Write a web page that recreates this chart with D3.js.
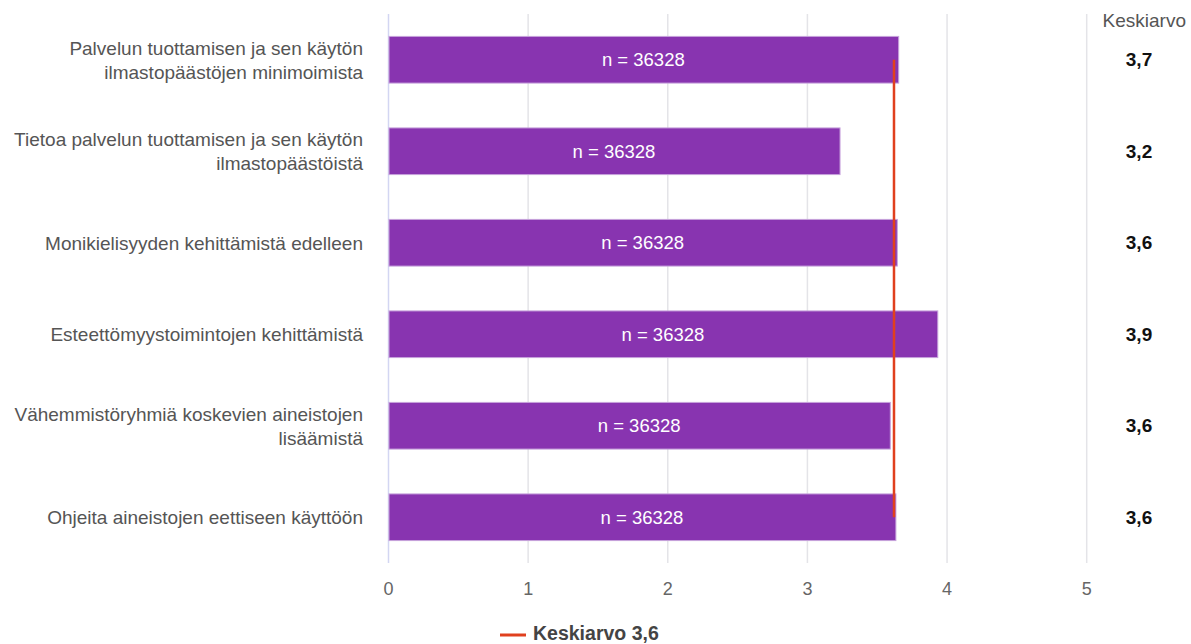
<!DOCTYPE html>
<html>
<head>
<meta charset="utf-8">
<script src="https://cdn.jsdelivr.net/npm/d3@7"></script>
<style>
  body { margin: 0; background: #fff; }
  text { font-family: "Liberation Sans", Arial, sans-serif; }
</style>
</head>
<body>
<div id="chart"></div>
<script>
// chart data
var categories = [
    ['Palvelun tuottamisen ja sen käytön', 'ilmastopäästöjen minimoimista'],
    ['Tietoa palvelun tuottamisen ja sen käytön', 'ilmastopäästöistä'],
    ['Monikielisyyden kehittämistä edelleen'],
    ['Esteettömyystoimintojen kehittämistä'],
    ['Vähemmistöryhmiä koskevien aineistojen', 'lisäämistä'],
    ['Ohjeita aineistojen eettiseen käyttöön']
];
var values = [3.65, 3.23, 3.64, 3.93, 3.59, 3.63];
var counts = [36328, 36328, 36328, 36328, 36328, 36328];
var meanLabels = ['3,7', '3,2', '3,6', '3,9', '3,6', '3,6'];
var overallMean = 3.62;
var xTicks = [0, 1, 2, 3, 4, 5];

var width = 1191, height = 644;
var margin = {left: 388.5, right: 104.3, top: 14, bottom: 81};

var svg = d3.select('#chart').append('svg')
    .attr('width', width)
    .attr('height', height);

var x = d3.scaleLinear()
    .domain([0, 5])
    .range([margin.left, width - margin.right]);

var y = d3.scaleBand()
    .domain(d3.range(categories.length))
    .range([margin.top, height - margin.bottom])
    .paddingInner(0.49)
    .paddingOuter(0.245);

// gridlines
svg.append('g').selectAll('line')
    .data(xTicks)
    .enter()
    .append('line')
    .attr('x1', function (d) { return x(d); })
    .attr('x2', function (d) { return x(d); })
    .attr('y1', margin.top)
    .attr('y2', height - margin.bottom)
    .attr('stroke', function (d) { return d == 0 ? '#d3d6f2' : '#e4e4e8'; })
    .attr('stroke-width', 1.5);

// x tick labels
svg.append('g').selectAll('text')
    .data(xTicks)
    .enter()
    .append('text')
    .attr('x', function (d) { return x(d); })
    .attr('y', 595)
    .attr('text-anchor', 'middle')
    .attr('font-size', 18)
    .attr('fill', '#666')
    .text(function (d) { return d; });

// bars
svg.append('g').selectAll('rect')
    .data(values)
    .enter()
    .append('rect')
    .attr('x', x(0) + 0.5)
    .attr('y', function (d, i) { return y(i); })
    .attr('width', function (d) { return x(d) - x(0); })
    .attr('height', y.bandwidth())
    .attr('fill', '#8834b0')
    .attr('stroke', '#c7a3dc')
    .attr('stroke-width', 1);

// n labels
svg.append('g').selectAll('text')
    .data(values)
    .enter()
    .append('text')
    .attr('x', function (d) { return (x(0) + x(d)) / 2; })
    .attr('y', function (d, i) { return y(i) + y.bandwidth() / 2 + 6.5; })
    .attr('text-anchor', 'middle')
    .attr('font-size', 18.5)
    .attr('fill', '#fff')
    .text(function (d, i) { return 'n = ' + counts[i]; });

// mean line
svg.append('line')
    .attr('x1', x(overallMean))
    .attr('x2', x(overallMean))
    .attr('y1', y(0) + y.bandwidth() / 2)
    .attr('y2', y(categories.length - 1) + y.bandwidth() / 2)
    .attr('stroke', '#e0401e')
    .attr('stroke-width', 2.5);

// category labels
var labels = svg.append('g').selectAll('text')
    .data(categories)
    .enter()
    .append('text')
    .attr('text-anchor', 'end')
    .attr('font-size', 19)
    .attr('fill', '#555')
    .attr('transform', function (d, i) {
        var cy = y(i) + y.bandwidth() / 2;
        return 'translate(363,' + (cy + 7 - (d.length - 1) * 12) + ')';
    });
labels.selectAll('tspan')
    .data(function (d) { return d; })
    .enter()
    .append('tspan')
    .attr('x', 0)
    .attr('dy', function (d, i) { return i == 0 ? 0 : 24; })
    .text(function (d) { return d; });

// right column
svg.append('text')
    .attr('x', 1186)
    .attr('y', 27)
    .attr('text-anchor', 'end')
    .attr('font-size', 19)
    .attr('fill', '#555')
    .text('Keskiarvo');

svg.append('g').selectAll('text')
    .data(meanLabels)
    .enter()
    .append('text')
    .attr('x', 1139)
    .attr('y', function (d, i) { return y(i) + y.bandwidth() / 2 + 6.5; })
    .attr('text-anchor', 'middle')
    .attr('font-size', 19)
    .attr('font-weight', 'bold')
    .attr('fill', '#111')
    .text(function (d) { return d; });

// legend
svg.append('line')
    .attr('x1', 500)
    .attr('x2', 526)
    .attr('y1', 635)
    .attr('y2', 635)
    .attr('stroke', '#e0401e')
    .attr('stroke-width', 3);
svg.append('text')
    .attr('x', 533)
    .attr('y', 640)
    .attr('font-size', 19.5)
    .attr('font-weight', 'bold')
    .attr('fill', '#444')
    .text('Keskiarvo 3,6');
</script>
</body>
</html>
